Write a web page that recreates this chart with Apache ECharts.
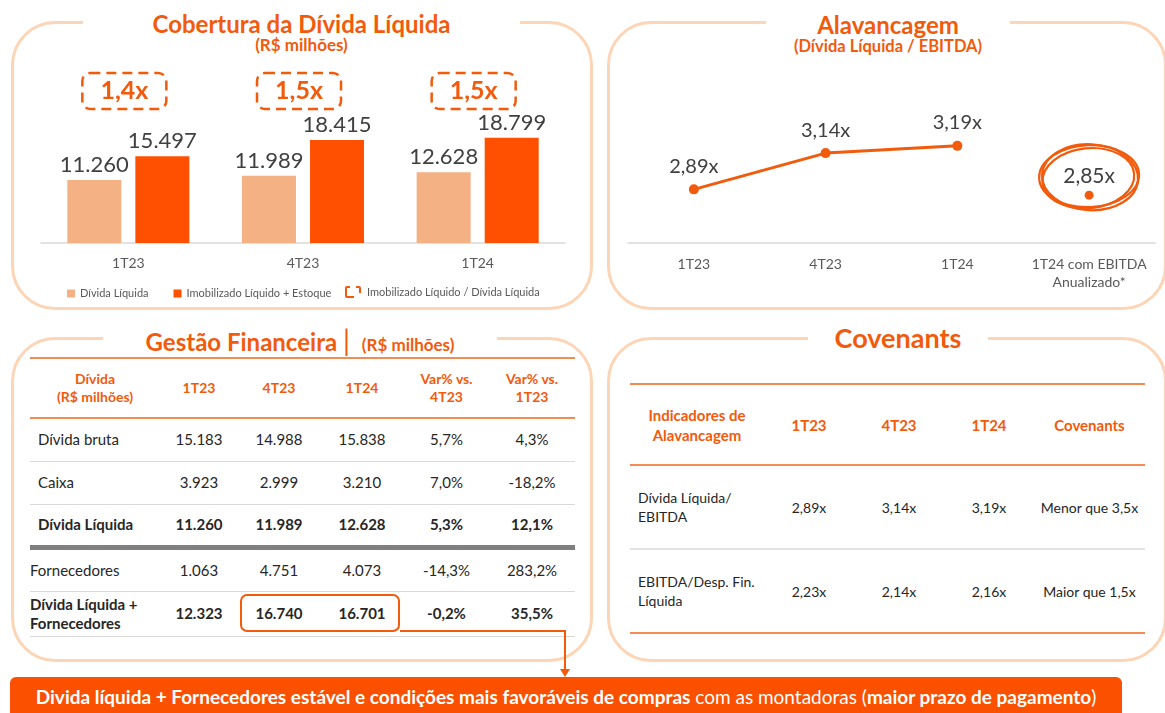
<!DOCTYPE html>
<html lang="pt-BR">
<head>
<meta charset="UTF-8">
<title>Endividamento 1T24</title>
<script src="https://cdn.jsdelivr.net/npm/echarts@6.0.0/dist/echarts.min.js"></script>
<style>
  body{margin:0;width:1165px;height:713px;overflow:hidden;background:#fff;font-family:Lato,'Open Sans',sans-serif;color:#262626;position:relative}
  .panel{position:absolute;box-sizing:border-box;border:3px solid #fcd5b6;border-radius:44px}
  .ptitle{position:absolute;background:#fff;text-align:center;color:#f25a0c;font-weight:bold;white-space:nowrap}
  .psub{position:absolute;text-align:center;color:#f25a0c;font-weight:bold;line-height:18px}
  #chart{position:absolute;left:0;top:0;width:1165px;height:713px;z-index:2}
  table{position:absolute;border-collapse:collapse;table-layout:fixed}
  td{text-align:center;padding:0;white-space:pre-line;vertical-align:middle}
  td.first{text-align:left}
  #gestao td{font-size:15px;line-height:19px}
  #gestao tr.head td{color:#f25a0c;font-weight:bold;font-size:14px;line-height:18px}
  #covenants td{font-size:14px;line-height:19px}
  #covenants tr.head td{color:#f25a0c;font-weight:bold;font-size:15px;line-height:20px}
  .destaque{position:absolute;left:240px;top:594px;width:160px;height:38px;box-sizing:border-box;border:2px solid #f25a0c;border-radius:7px}
  #faixa{position:absolute;left:10px;top:677px;width:1112px;height:40px;background:#fa5000;border-radius:6px 6px 0 0;color:#fff;font-size:19px;line-height:40px;text-align:center;white-space:nowrap}
  #faixa b{font-weight:bold}
</style>
</head>
<body>
  <div class="panel" style="left:11px;top:21px;width:582px;height:289px"></div>
  <div class="panel" style="left:607px;top:21px;width:560px;height:289px"></div>
  <div class="panel" style="left:11px;top:337px;width:582px;height:325px"></div>
  <div class="panel" style="left:607px;top:337px;width:560px;height:325px"></div>

  <div class="ptitle" style="left:83px;top:9px;width:437px;font-size:24px;line-height:30px">Cobertura da Dívida Líquida</div>
  <div class="psub" style="left:83px;top:36px;width:437px;font-size:17px">(R$ milhões)</div>
  <div class="ptitle" style="left:766px;top:10px;width:244px;font-size:24px;line-height:30px">Alavancagem</div>
  <div class="psub" style="left:766px;top:37px;width:244px;font-size:16.5px">(Dívida Líquida / EBITDA)</div>
  <div class="ptitle" style="left:103px;top:325px;width:394px;font-size:24px;line-height:30px">Gestão Financeira <span style="font-size:28px;font-weight:normal">|</span> <span style="font-size:17px;margin-left:6px">(R$ milhões)</span></div>
  <div class="ptitle" style="left:808px;top:321px;width:180px;font-size:27px;line-height:34px">Covenants</div>

  <table id="gestao" style="left:30px;top:357px;width:545px"></table>
  <table id="covenants" style="left:630px;top:383px;width:515px"></table>
  <div class="destaque"></div>
  <svg style="position:absolute;left:0;top:0;width:1165px;height:713px;z-index:1" width="1165" height="713">
    <polyline points="400,631 565,631 565,670" fill="none" stroke="#f25a0c" stroke-width="2"/>
    <polygon points="560,669 570,669 565,677" fill="#f25a0c"/>
  </svg>
  <div id="faixa"><b>Divida líquida + Fornecedores estável e condições mais favoráveis de compras</b> com as montadoras (<b>maior prazo de pagamento</b>)</div>

  <div id="chart"></div>

<script>
// ---- dados ----
var quarters = ['1T23', '4T23', '1T24'];
var dividaLiquida = [11260, 11989, 12628];
var imobilizadoEstoque = [15497, 18415, 18799];
var coberturaRatio = [1.4, 1.5, 1.5];

var alavancagemCats = ['1T23', '4T23', '1T24', '1T24 com EBITDA\nAnualizado*'];
var alavancagem = [2.89, 3.14, 3.19];
var alavancagemAnualizada = 2.85;

var gestaoHeader = ['Dívida\n(R$ milhões)', '1T23', '4T23', '1T24', 'Var% vs.\n4T23', 'Var% vs.\n1T23'];
var gestaoRows = [
    ['Dívida bruta', '15.183', '14.988', '15.838', '5,7%', '4,3%'],
    ['Caixa', '3.923', '2.999', '3.210', '7,0%', '-18,2%'],
    ['Dívida Líquida', '11.260', '11.989', '12.628', '5,3%', '12,1%'],
    ['Fornecedores', '1.063', '4.751', '4.073', '-14,3%', '283,2%'],
    ['Dívida Líquida +\nFornecedores', '12.323', '16.740', '16.701', '-0,2%', '35,5%']
];
var covHeader = ['Indicadores de\nAlavancagem', '1T23', '4T23', '1T24', 'Covenants'];
var covRows = [
    ['Dívida Líquida/\nEBITDA', '2,89x', '3,14x', '3,19x', 'Menor que 3,5x'],
    ['EBITDA/Desp. Fin.\nLíquida', '2,23x', '2,14x', '2,16x', 'Maior que 1,5x']
];

var laranja = '#f25a0c';
var regra = '#f28c52';

function milhar(v) { return String(v).replace(/\B(?=(\d{3})+(?!\d))/g, '.'); }
function vezes(v, d) { return v.toFixed(d).replace('.', ',') + 'x'; }

// ---- tabelas ----
function montaTabela(el, widths, header, rows, cfg) {
    var html = '<colgroup>' + widths.map(function (w) { return '<col style="width:' + w + 'px">'; }).join('') + '</colgroup>';
    html += '<tr class="head" style="height:' + cfg.headH + 'px;border-top:2px solid ' + regra + ';border-bottom:2px solid ' + regra + '">';
    header.forEach(function (h) { html += '<td>' + h + '</td>'; });
    html += '</tr>';
    rows.forEach(function (r, i) {
        var s = cfg.rowStyle[i];
        html += '<tr style="height:' + s.h + 'px;border-bottom:' + s.border + ';' + (s.bold ? 'font-weight:bold;' : '') + '">';
        r.forEach(function (c, j) {
            if (j === 0) html += '<td class="first" style="padding-left:' + s.pad + 'px">' + c + '</td>';
            else html += '<td>' + c + '</td>';
        });
        html += '</tr>';
    });
    el.innerHTML = html;
}
var cinza = '1.5px solid #d9d9d9';
montaTabela(document.getElementById('gestao'), [130, 78, 82, 84, 85, 86], gestaoHeader, gestaoRows, {
    headH: 60,
    rowStyle: [
        {h: 43, border: cinza, pad: 8},
        {h: 43, border: cinza, pad: 8},
        {h: 43, border: '5px solid #7f7f7f', pad: 8, bold: true},
        {h: 44, border: cinza, pad: 0},
        {h: 45, border: cinza, pad: 0, bold: true}
    ]
});
montaTabela(document.getElementById('covenants'), [134, 90, 90, 90, 111], covHeader, covRows, {
    headH: 81,
    rowStyle: [
        {h: 84, border: '2px solid #e3e3e3', pad: 8},
        {h: 84, border: '2px solid ' + regra, pad: 8}
    ]
});

// ---- graficos ----
var chart = echarts.init(document.getElementById('chart'));
var axisLbl = {color: '#595959', fontSize: 14, fontFamily: 'Lato'};
var legendTxt = {fontSize: 11, color: '#595959', fontFamily: 'Lato'};
var option = {
    animation: false,
    textStyle: {fontFamily: 'Lato'},
    legend: [{
        data: ['Dívida Líquida', 'Imobilizado Líquido + Estoque'],
        left: 62, top: 283,
        icon: 'rect', itemWidth: 8, itemHeight: 8, itemGap: 25,
        textStyle: legendTxt
    }, {
        data: ['Imobilizado Líquido / Dívida Líquida'],
        left: 340, top: 281,
        itemWidth: 18, itemHeight: 12,
        icon: 'path://M0,2Q0,0 2,0H5V2H2V10H9V12H2Q0,12 0,10Z M11,0H14Q16,0 16,2V7H14V2H11Z',
        textStyle: legendTxt
    }],
    grid: [
        {left: 41, top: 19, width: 524, height: 224},
        {left: 628, top: 98, width: 527, height: 145}
    ],
    xAxis: [{
        gridIndex: 0, type: 'category', data: quarters,
        axisTick: {show: false},
        axisLine: {lineStyle: {color: '#d9d9d9', width: 1.5}},
        axisLabel: Object.assign({margin: 13, interval: 0}, axisLbl)
    }, {
        gridIndex: 1, type: 'category', data: alavancagemCats,
        axisTick: {show: false},
        axisLine: {lineStyle: {color: '#d9d9d9', width: 1.5}},
        axisLabel: Object.assign({margin: 12, interval: 0, lineHeight: 18}, axisLbl)
    }],
    yAxis: [
        {gridIndex: 0, type: 'value', min: 0, max: 40000, show: false},
        {gridIndex: 1, type: 'value', min: 2.52, max: 3.52, show: false}
    ],
    series: [{
        name: 'Dívida Líquida', type: 'bar', xAxisIndex: 0, yAxisIndex: 0,
        data: dividaLiquida, barWidth: 54, barGap: '26%',
        itemStyle: {color: '#f4b183'},
        label: {show: true, position: 'top', distance: 4, fontSize: 22, color: '#404040',
            formatter: function (p) { return milhar(p.value); }}
    }, {
        name: 'Imobilizado Líquido + Estoque', type: 'bar', xAxisIndex: 0, yAxisIndex: 0,
        data: imobilizadoEstoque, barWidth: 54,
        itemStyle: {color: '#fe5000'},
        label: {show: true, position: 'top', distance: 4, fontSize: 22, color: '#404040',
            formatter: function (p) { return milhar(p.value); }}
    }, {
        name: 'Imobilizado Líquido / Dívida Líquida', type: 'custom', xAxisIndex: 0, yAxisIndex: 0,
        itemStyle: {color: laranja},
        data: coberturaRatio.map(function (r, i) { return [i, r]; }),
        renderItem: function (params, api) {
            var x = api.coord([api.value(0), 0])[0] - 4;
            var cy = params.coordSys.y + 72;
            return {type: 'group', children: [
                {type: 'rect', shape: {x: x - 42, y: cy - 18, width: 84, height: 36, r: 8},
                    style: {fill: 'none', stroke: laranja, lineWidth: 2.5, lineDash: [10, 6]}},
                {type: 'text', style: {text: vezes(api.value(1), 1), x: x, y: cy, align: 'center', verticalAlign: 'middle',
                    fill: laranja, fontSize: 25, fontWeight: 'bold', fontFamily: 'Lato'}}
            ]};
        }
    }, {
        name: 'Alavancagem', type: 'line', xAxisIndex: 1, yAxisIndex: 1,
        data: alavancagem, symbol: 'circle', symbolSize: 10,
        itemStyle: {color: laranja}, lineStyle: {color: laranja, width: 3},
        label: {show: true, position: 'top', distance: 8, fontSize: 20, color: '#404040',
            formatter: function (p) { return vezes(p.value, 2); }}
    }, {
        name: 'Alavancagem anualizada', type: 'custom', xAxisIndex: 1, yAxisIndex: 1,
        data: [[3, alavancagemAnualizada]],
        renderItem: function (params, api) {
            var p = api.coord([api.value(0), api.value(1)]);
            var cx = p[0], cy = p[1] - 19;
            var traco = {fill: 'none', stroke: laranja, lineWidth: 2.2};
            return {type: 'group', children: [
                {type: 'ellipse', shape: {cx: cx, cy: cy, rx: 50, ry: 31}, rotation: 0.04, originX: cx, originY: cy, style: traco},
                {type: 'ellipse', shape: {cx: cx + 1, cy: cy + 1, rx: 48, ry: 33}, rotation: -0.06, originX: cx, originY: cy, style: traco},
                {type: 'ellipse', shape: {cx: cx - 1, cy: cy + 2, rx: 46, ry: 30}, rotation: 0.1, originX: cx, originY: cy, style: traco},
                {type: 'circle', shape: {cx: p[0], cy: p[1], r: 4.5}, style: {fill: laranja}},
                {type: 'text', style: {text: vezes(api.value(1), 2), x: cx, y: cy, align: 'center', verticalAlign: 'middle',
                    fill: '#404040', fontSize: 21, fontFamily: 'Lato'}}
            ]};
        }
    }]
};
chart.setOption(option);
</script>
</body>
</html>
